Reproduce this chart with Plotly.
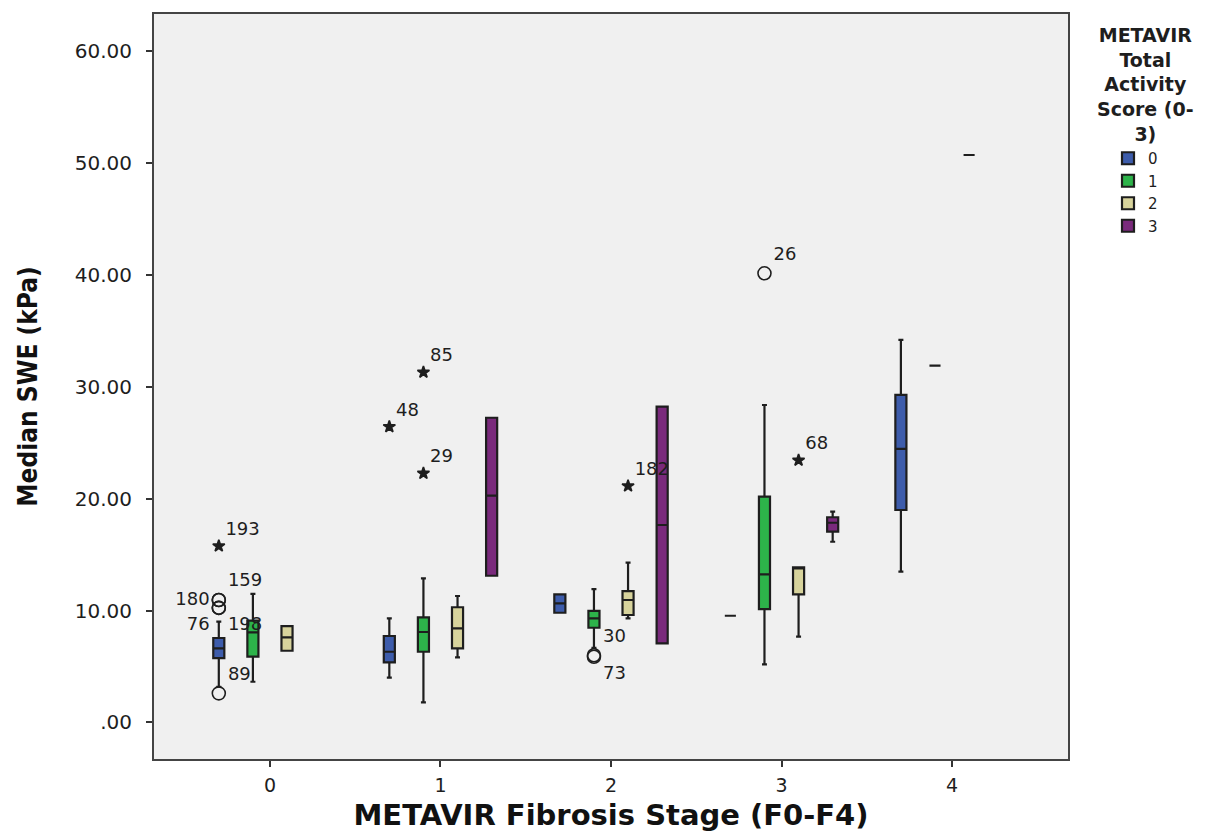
import plotly.graph_objects as go

# METAVIR fibrosis stage (x categories) and activity score groups
stages = [0, 1, 2, 3, 4]
stage_labels = ["0", "1", "2", "3", "4"]
scores = ["0", "1", "2", "3"]
score_colors = ["#3D5CAB", "#2DB34A", "#D7D39C", "#7A2A7C"]

# Box statistics per activity score (stage positions, whiskers, quartiles, median)
box_x = {
    "0": [0, 1, 2, 3, 4],
    "1": [0, 1, 2, 3, 4],
    "2": [0, 1, 2, 3, 4],
    "3": [1, 2, 3],
}
box_lower = {
    "0": [3.18, 3.99, 9.80, 9.53, 13.47],
    "1": [3.63, 1.79, 6.65, 5.19, 31.90],
    "2": [6.40, 5.81, 9.30, 7.66, 50.74],
    "3": [13.11, 7.07, 16.15],
}
box_q1 = {
    "0": [5.75, 5.37, 9.80, 9.53, 18.99],
    "1": [5.87, 6.31, 8.46, 10.13, 31.90],
    "2": [6.40, 6.62, 9.60, 11.45, 50.74],
    "3": [13.11, 7.07, 17.05],
}
box_median = {
    "0": [6.62, 6.31, 10.64, 9.53, 24.45],
    "1": [8.05, 8.08, 9.30, 13.24, 31.90],
    "2": [7.60, 8.41, 10.94, 13.76, 50.74],
    "3": [20.27, 17.65, 17.85],
}
box_q3 = {
    "0": [7.54, 7.72, 11.45, 9.53, 29.28],
    "1": [9.09, 9.39, 9.96, 20.18, 31.90],
    "2": [8.61, 10.29, 11.74, 13.86, 50.74],
    "3": [27.24, 28.23, 18.34],
}
box_upper = {
    "0": [9.00, 9.30, 11.45, 9.53, 34.20],
    "1": [11.48, 12.88, 11.92, 28.38, 31.90],
    "2": [8.61, 11.30, 14.28, 13.86, 50.74],
    "3": [27.24, 28.23, 18.84],
}

# Outliers (o) and extreme values (*) with their case numbers
out_stage = [0, 0, 0, 0, 0, 0, 1, 1, 1, 2, 2, 2, 3, 3]
out_score = ["0", "0", "0", "0", "0", "0", "0", "1", "1", "1", "1", "2", "1", "2"]
out_value = [15.77, 10.94, 10.94, 10.24, 10.24, 2.59, 26.44, 31.31, 22.27,
             6.00, 5.86, 21.14, 40.16, 23.44]
out_case = ["193", "180", "159", "76", "198", "89", "48", "85", "29",
            "30", "73", "182", "26", "68"]
out_kind = ["extreme", "outlier", "outlier", "outlier", "outlier", "outlier",
            "extreme", "extreme", "extreme", "outlier", "outlier", "extreme",
            "outlier", "extreme"]
out_textpos = ["top right", "middle left", "top right", "bottom left", "bottom right",
               "top right", "top right", "top right", "top right",
               "top right", "bottom right", "top right", "top right", "top right"]

y_tickvals = [0, 10, 20, 30, 40, 50, 60]
y_ticktext = [".00", "10.00", "20.00", "30.00", "40.00", "50.00", "60.00"]

legend_title = "METAVIR<br>Total<br>Activity<br>Score (0-<br>3)"

# grouped box layout: 4 slots per stage
BOXGAP = 0.2
slot = (1 - BOXGAP) / len(scores)
slot_offsets = [(-0.5 * (len(scores) - 1) + i) * slot for i in range(len(scores))]

TEXT_FONT = "DejaVu Sans, Verdana, sans-serif"
INK = "#1E1E1E"

fig = go.Figure()

for i, s in enumerate(scores):
    fig.add_trace(go.Box(
        name=s,
        x=box_x[s],
        q1=box_q1[s],
        median=box_median[s],
        q3=box_q3[s],
        lowerfence=box_lower[s],
        upperfence=box_upper[s],
        orientation="v",
        fillcolor=score_colors[i],
        line=dict(color=INK, width=2.2),
        whiskerwidth=0.45,
        boxpoints=False,
        hoverinfo="skip",
    ))

# outlier / extreme markers with case-number labels
for kind, sym, size in [("outlier", "circle-open", 13), ("extreme", "star", 9)]:
    idx = [k for k in range(len(out_value)) if out_kind[k] == kind]
    fig.add_trace(go.Scatter(
        x=[out_stage[k] + slot_offsets[scores.index(out_score[k])] for k in idx],
        y=[out_value[k] for k in idx],
        mode="markers+text",
        text=[out_case[k] for k in idx],
        textposition=[out_textpos[k] for k in idx],
        textfont=dict(family=TEXT_FONT, size=18, color=INK),
        marker=dict(symbol=sym, size=size, color=INK,
                    line=dict(color=INK, width=1.6)),
        showlegend=False,
        hoverinfo="skip",
        cliponaxis=False,
    ))

PLOT_L, PLOT_R, PLOT_T, PLOT_B = 154, 1068, 14, 759
pw, ph = PLOT_R - PLOT_L, PLOT_B - PLOT_T

# legend heading above the colour key
fig.add_annotation(
    x=(1145 - PLOT_L) / pw, y=(PLOT_B - 22) / ph,
    xref="paper", yref="paper", xanchor="center", yanchor="top",
    text=legend_title, showarrow=False, align="center",
    font=dict(family=TEXT_FONT, size=19, color=INK, weight="bold"),
)

fig.update_layout(
    width=1215, height=833, autosize=False,
    margin=dict(l=PLOT_L, r=1215 - PLOT_R, t=PLOT_T, b=833 - PLOT_B),
    paper_bgcolor="white",
    plot_bgcolor="#F0F0F0",
    boxmode="group",
    boxgap=BOXGAP,
    boxgroupgap=0.675,
    font=dict(family=TEXT_FONT, color=INK),
    legend=dict(
        x=(1108 - PLOT_L) / pw, y=(PLOT_B - 142) / ph,
        xanchor="left", yanchor="top",
        font=dict(family=TEXT_FONT, size=15, color=INK),
        bgcolor="rgba(0,0,0,0)",
        tracegroupgap=0,
        itemwidth=30,
    ),
    xaxis=dict(
        range=[-0.68, 4.68],
        tickvals=stages, ticktext=stage_labels,
        showline=True, linecolor="#444", linewidth=2, mirror=True,
        ticks="outside", ticklen=6, tickwidth=2, tickcolor="#333",
        showgrid=False, zeroline=False,
        tickfont=dict(family=TEXT_FONT, size=19, color=INK),
        ticklabelstandoff=2,
        automargin=False,
        title=dict(text="METAVIR Fibrosis Stage (F0-F4)",
                   font=dict(family=TEXT_FONT, size=29, color="#111", weight="bold"),
                   standoff=10),
    ),
    yaxis=dict(
        range=[-3.28, 63.35],
        tickvals=y_tickvals, ticktext=y_ticktext,
        showline=True, linecolor="#444", linewidth=2, mirror=True,
        ticks="outside", ticklen=6, tickwidth=2, tickcolor="#333",
        showgrid=False, zeroline=False,
        tickfont=dict(family=TEXT_FONT, size=20, color=INK),
        ticklabelstandoff=10,
        automargin=False,
        title=dict(text="Median SWE (kPa)",
                   font=dict(family="DejaVu Sans Condensed, DejaVu Sans, sans-serif",
                             size=26, color="#111", weight="bold"),
                   standoff=30),
    ),
)

fig.write_html("out.html")
